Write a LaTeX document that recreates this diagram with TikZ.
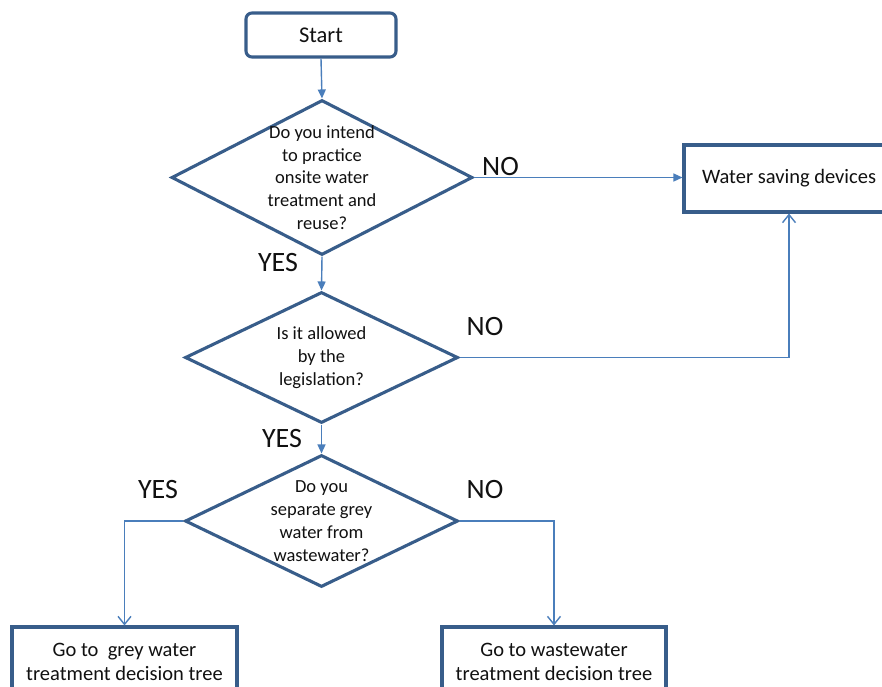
\documentclass[tikz,border=0pt]{standalone}
\usepackage{fontspec}
\setmainfont{Carlito}
\usetikzlibrary{shapes.geometric,arrows.meta}
\definecolor{shapeblue}{HTML}{385D8A}
\definecolor{linkblue}{HTML}{4A7EBB}
\definecolor{txt}{HTML}{111111}
\begin{document}
\begin{tikzpicture}[x=1pt,y=-1pt,
  box/.style={draw=shapeblue, line width=3.1pt, fill=white, inner sep=0pt, text=txt,
              font=\fontsize{20.5}{24}\selectfont, align=center},
  dia/.style={diamond, draw=shapeblue, line width=3.1pt, fill=white, inner sep=0pt},
  qtext/.style={font=\fontsize{18.5}{22.8}\selectfont, align=center, inner sep=0pt, text=txt},
  lbl/.style={font=\fontsize{28}{30}\selectfont, inner sep=0pt, text=txt},
  link/.style={draw=linkblue, line width=1.4pt},
  solidtip/.style={-{Triangle[length=9pt,width=8pt]}},
  opentip/.style={-{Straight Barb[length=8pt,width=13pt,line width=1.4pt]}},
]
\useasboundingbox (0,0) rectangle (882,686);
\clip (0,0) rectangle (882,686);
\fill[white] (0,0) rectangle (882,686);

% shapes
\node[box, rounded corners=6pt, minimum width=150pt, minimum height=44pt,
      font=\fontsize{22.5}{26}\selectfont] (start) at (321,35) {Start};
\node[dia, minimum width=301pt, minimum height=155pt] (d1) at (322,177.5) {};
\node[qtext] (d1t) at (322,177.5) {Do you intend\\to practice\\onsite water\\treatment and\\reuse?};
\node[dia, minimum width=273pt, minimum height=131pt] (d2) at (321.5,357.5) {};
\node[qtext] (d2t) at (321.5,357.5) {Is it allowed\\by the\\legislation?};
\node[dia, minimum width=273pt, minimum height=132pt] (d3) at (321.5,521) {};
\node[qtext] (d3t) at (321.5,521) {Do you\\separate grey\\water from\\wastewater?};
\node[box, minimum width=210pt, minimum height=67pt] (water) at (789,178.5) {Water saving devices};
\node[box, minimum width=225pt, minimum height=70pt] (grey) at (124.5,662) {Go to\ \ grey water\\treatment decision tree};
\node[box, minimum width=224pt, minimum height=70pt] (waste) at (554,662) {Go to wastewater\\treatment decision tree};

% connectors
\draw[link,solidtip] (start.south) -- (d1.north);
\draw[link,solidtip] (d1.east) -- (d1.east -| water.west);
\draw[link,solidtip] (d1.south) -- (d2.north);
\draw[link,opentip] (d2.east) -| (water.south);
\draw[link,solidtip] (d2.south) -- (d3.north);
\draw[link,opentip] (d3.west) -| (grey.north);
\draw[link,opentip] (d3.east) -| (waste.north);

% labels
\node[lbl] (no1) at (500.5,167) {NO};
\node[lbl] (yes1) at (278,263) {YES};
\node[lbl] (no2) at (485,327) {NO};
\node[lbl] (yes2) at (282,438) {YES};
\node[lbl] (yes3) at (158,489) {YES};
\node[lbl] (no3) at (485,489) {NO};
\end{tikzpicture}
\end{document}
